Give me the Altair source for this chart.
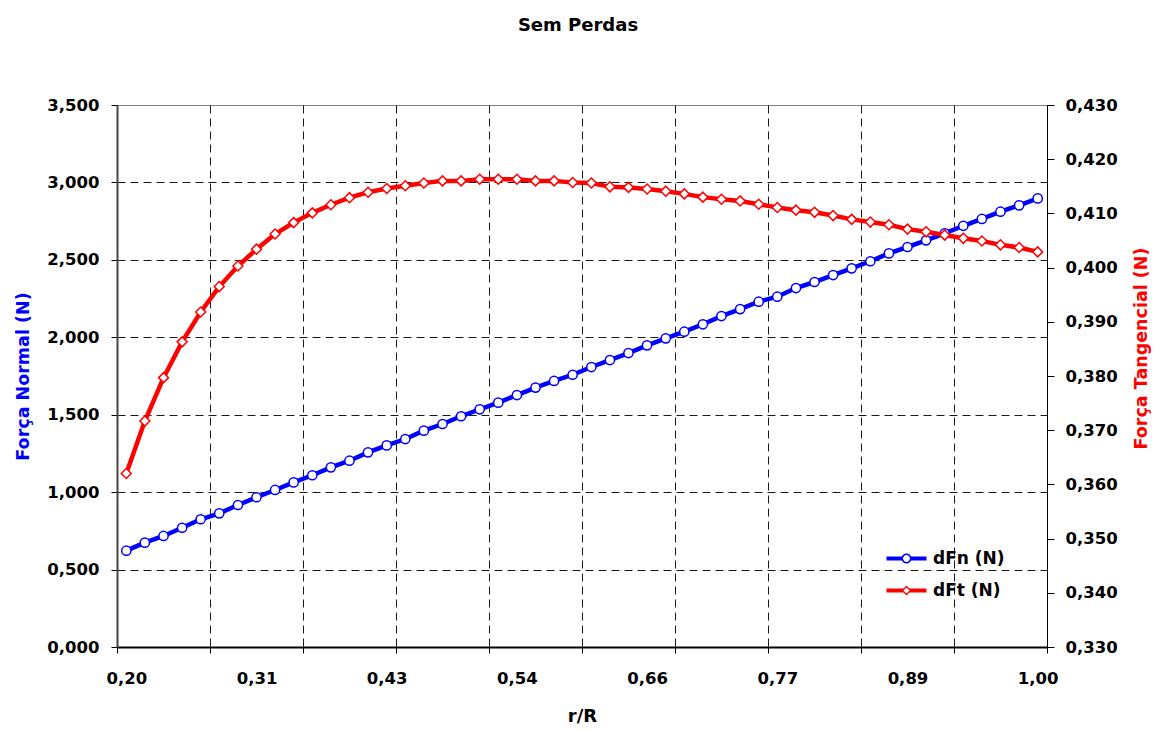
import altair as alt
import pandas as pd

# ---------------- data ----------------
r_R = [0.2000, 0.2163, 0.2327, 0.2490, 0.2653, 0.2816, 0.2980, 0.3143, 0.3306, 0.3469,
       0.3633, 0.3796, 0.3959, 0.4122, 0.4286, 0.4449, 0.4612, 0.4776, 0.4939, 0.5102,
       0.5265, 0.5429, 0.5592, 0.5755, 0.5918, 0.6082, 0.6245, 0.6408, 0.6571, 0.6735,
       0.6898, 0.7061, 0.7224, 0.7388, 0.7551, 0.7714, 0.7878, 0.8041, 0.8204, 0.8367,
       0.8531, 0.8694, 0.8857, 0.9020, 0.9184, 0.9347, 0.9510, 0.9673, 0.9837, 1.0000]

dFn = [0.622, 0.674, 0.717, 0.770, 0.825, 0.863, 0.917, 0.967, 1.014, 1.063,
       1.109, 1.160, 1.203, 1.257, 1.302, 1.343, 1.397, 1.440, 1.490, 1.535,
       1.578, 1.627, 1.675, 1.718, 1.758, 1.808, 1.853, 1.898, 1.948, 1.993,
       2.036, 2.084, 2.137, 2.182, 2.230, 2.262, 2.318, 2.357, 2.402, 2.445,
       2.491, 2.542, 2.583, 2.626, 2.671, 2.720, 2.764, 2.811, 2.852, 2.897]

dFt = [0.3620, 0.3717, 0.3797, 0.3863, 0.3918, 0.3965, 0.4003, 0.4034, 0.4062, 0.4083,
       0.4101, 0.4116, 0.4129, 0.4139, 0.4146, 0.4151, 0.4156, 0.4160, 0.4160, 0.4163,
       0.4163, 0.4163, 0.4160, 0.4160, 0.4157, 0.4156, 0.4149, 0.4148, 0.4145, 0.4141,
       0.4136, 0.4130, 0.4126, 0.4123, 0.4117, 0.4111, 0.4106, 0.4102, 0.4096, 0.4089,
       0.4084, 0.4079, 0.4071, 0.4066, 0.4060, 0.4054, 0.4049, 0.4042, 0.4037, 0.4029]

series_names = ["dFn (N)", "dFt (N)"]
series_colors = ["#0000FF", "#FF0000"]
left_ticks = [0.0, 0.5, 1.0, 1.5, 2.0, 2.5, 3.0, 3.5]
right_ticks = [0.33, 0.34, 0.35, 0.36, 0.37, 0.38, 0.39, 0.40, 0.41, 0.42, 0.43]

# ---------------- derived helpers ----------------
df = pd.DataFrame({"r": r_R, "dFn": dFn, "dFt": dFt})
legend_df = pd.DataFrame({"series": series_names})

half = (r_R[1] - r_R[0]) / 2
x_lo, x_hi = r_R[0] - half, r_R[-1] + half
boundaries = [x_lo] + [(r_R[i - 1] + r_R[i]) / 2 for i in range(5, len(r_R), 5)] + [x_hi]
label_vals = r_R[::7]

FONT = "DejaVu Sans"
GRID = "#1a1a1a"

x_scale = alt.Scale(domain=[x_lo, x_hi], nice=False, zero=False)

x_grid_axis = alt.Axis(orient="bottom", values=boundaries, labels=False, grid=True,
                       gridDash=[8, 5], gridColor=GRID, gridWidth=1,
                       ticks=True, tickSize=6, tickColor="#000", tickWidth=1,
                       domain=True, domainColor="#000", domainWidth=2, title=None)

x_label_axis = alt.Axis(orient="bottom", values=label_vals,
                        labelExpr="replace(format(datum.value, '.2f'), '.', ',')",
                        grid=False, ticks=False, domain=False, labelFlush=False,
                        labelOverlap=False, labelFont=FONT, labelFontSize=16.5,
                        labelFontWeight="bold", labelColor="#000", labelPadding=23,
                        title="r/R", titleFont=FONT, titleFontSize=18,
                        titleFontWeight="bold", titleColor="#000", titlePadding=21)

left_axis = alt.Axis(orient="left", values=left_ticks,
                     labelExpr="replace(format(datum.value, '.3f'), '.', ',')",
                     grid=True, gridDash=[8, 5], gridColor=GRID, gridWidth=1,
                     gridOpacity={"condition": {"test": "datum.value > 3.4", "value": 0}, "value": 1},
                     tickSize=6, tickColor="#000", domainColor="#444", domainWidth=2,
                     labelFont=FONT, labelFontSize=16.5, labelFontWeight="bold",
                     labelColor="#000", labelPadding=12,
                     title="Força Normal (N)", titleFont=FONT, titleFontSize=17.5,
                     titleFontWeight="bold", titleColor="#0000FF", titlePadding=14)

right_axis = alt.Axis(orient="right", values=right_ticks,
                      labelExpr="replace(format(datum.value, '.3f'), '.', ',')",
                      grid=False, tickSize=7, tickColor="#000", domainColor="#000",
                      domainWidth=1, labelFont=FONT, labelFontSize=16.5,
                      labelFontWeight="bold", labelColor="#000", labelPadding=11,
                      title="Força Tangencial (N)", titleFont=FONT, titleFontSize=17.5,
                      titleFontWeight="bold", titleColor="#FF0000", titleAngle=270,
                      titleX=94, titleY=243, titleAlign="center", titleBaseline="middle")

base = alt.Chart(df)

blue = alt.layer(
    base.mark_line(color=series_colors[0], strokeWidth=4.5).encode(
        x=alt.X("r:Q", scale=x_scale, axis=x_grid_axis),
        y=alt.Y("dFn:Q", scale=alt.Scale(domain=[0, 3.5], nice=False, zero=False), axis=left_axis),
    ),
    base.mark_point(shape="circle", filled=True, fill="white", stroke=series_colors[0],
                    strokeWidth=1.5, size=85, opacity=1).encode(
        x=alt.X("r:Q", scale=x_scale, axis=x_grid_axis),
        y=alt.Y("dFn:Q", scale=alt.Scale(domain=[0, 3.5], nice=False, zero=False), axis=left_axis),
    ),
)

red = alt.layer(
    base.mark_line(color=series_colors[1], strokeWidth=4.5).encode(
        x=alt.X("r:Q", scale=x_scale, axis=x_label_axis),
        y=alt.Y("dFt:Q", scale=alt.Scale(domain=[0.33, 0.43], nice=False, zero=False), axis=right_axis),
    ),
    base.mark_point(shape="diamond", filled=True, fill="white", stroke=series_colors[1],
                    strokeWidth=1.5, size=100, opacity=1).encode(
        x=alt.X("r:Q", scale=x_scale, axis=x_label_axis),
        y=alt.Y("dFt:Q", scale=alt.Scale(domain=[0.33, 0.43], nice=False, zero=False), axis=right_axis),
    ),
)

# legend symbols: line segment + open marker, as filled paths (unit = 5 px)
circle_sym = ("M -4 -0.4 L -0.85 -0.4 L -0.85 0.4 L -4 0.4 Z "
              "M 0.85 -0.4 L 4 -0.4 L 4 0.4 L 0.85 0.4 Z "
              "M 1 0 A 1 1 0 1 1 -1 0 A 1 1 0 1 1 1 0 Z "
              "M 0.68 0 A 0.68 0.68 0 1 0 -0.68 0 A 0.68 0.68 0 1 0 0.68 0 Z")
diamond_sym = ("M -4 -0.4 L -0.6 -0.4 L -0.6 0.4 L -4 0.4 Z "
               "M 0.6 -0.4 L 4 -0.4 L 4 0.4 L 0.6 0.4 Z "
               "M 0 -1 L 1 0 L 0 1 L -1 0 Z "
               "M 0 -0.62 L -0.62 0 L 0 0.62 L 0.62 0 Z")

leg = alt.Legend(orient="none", legendX=781, legendY=445, title=None,
                 labelFont=FONT, labelFontSize=17, labelFontWeight="bold",
                 labelColor="#000", symbolSize=100, symbolStrokeWidth=0,
                 symbolOpacity=1, labelOffset=18, rowPadding=14, padding=0)

legend_layer = alt.Chart(legend_df).mark_point(filled=True, opacity=0, size=100).encode(
    color=alt.Color("series:N", scale=alt.Scale(domain=series_names, range=series_colors), legend=leg),
    shape=alt.Shape("series:N", scale=alt.Scale(domain=series_names, range=[circle_sym, diamond_sym]), legend=leg),
)

chart = alt.layer(blue, red, legend_layer).resolve_scale(
    y="independent"
).resolve_axis(
    x="independent", y="independent"
).properties(
    width=930, height=542,
    title=alt.TitleParams("Sem Perdas", font=FONT, fontSize=18, fontWeight="bold",
                          anchor="middle", color="#000", offset=62, dx=-4),
    autosize=alt.AutoSizeParams(type="none"),
    padding={"left": 117, "top": 105, "right": 115, "bottom": 84},
    background="white",
).configure_view(stroke="#808080", strokeWidth=1)

chart.save("out.html", embed_options={"renderer": "svg", "actions": False})
